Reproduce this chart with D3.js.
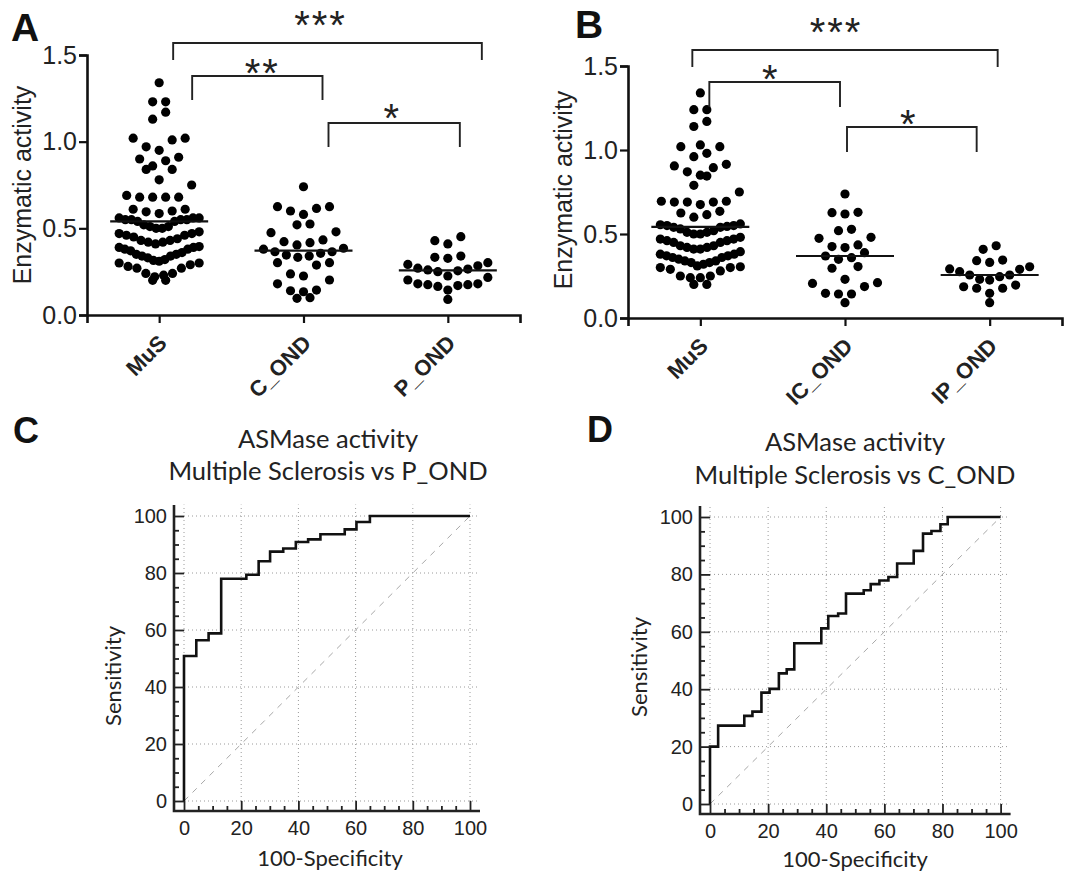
<!DOCTYPE html>
<html>
<head>
<meta charset="utf-8">
<script src="https://cdn.jsdelivr.net/npm/d3@7"></script>
<style>
  body { margin: 0; background: #fff; }
  svg { display: block; }
</style>
</head>
<body>
<svg id="fig" width="1070" height="873"></svg>
<script>
// ---- values ----
const groupsA = ["MuS", "C_OND", "P_OND"];
const groupsB = ["MuS", "IC_OND", "IP_OND"];

const musA = [1.34, 1.23, 1.23, 1.17, 1.13, 1.02, 1.02, 1.01, 0.97, 0.95, 0.91, 0.90, 0.89, 0.86,
  0.84, 0.84, 0.78, 0.75, 0.69, 0.68, 0.68, 0.68, 0.68, 0.61, 0.61, 0.60, 0.595, 0.585,
  0.56, 0.56, 0.56, 0.55, 0.55, 0.55, 0.55, 0.54, 0.54,
  0.52, 0.51, 0.51, 0.50, 0.50,
  0.48, 0.47, 0.47, 0.46, 0.46, 0.45,
  0.44, 0.43, 0.43, 0.42, 0.42, 0.41,
  0.395, 0.39, 0.39, 0.38, 0.38, 0.37,
  0.36, 0.35, 0.35, 0.34, 0.34, 0.33,
  0.32, 0.315, 0.31, 0.30, 0.30, 0.29,
  0.28, 0.27, 0.27,
  0.24, 0.24, 0.23, 0.22,
  0.20, 0.20];
const cOndA = [0.74, 0.625, 0.625, 0.615, 0.60, 0.58, 0.525, 0.52, 0.48, 0.475, 0.433, 0.423,
  0.417, 0.404, 0.385, 0.38, 0.365, 0.365, 0.356, 0.346, 0.34, 0.333, 0.302, 0.302, 0.288,
  0.237, 0.225, 0.202, 0.18, 0.144, 0.14, 0.134, 0.10, 0.096];
const pOndA = [0.452, 0.429, 0.41, 0.34, 0.333, 0.327, 0.302, 0.292, 0.284, 0.27, 0.265, 0.26,
  0.255, 0.25, 0.225, 0.217, 0.202, 0.18, 0.18, 0.175, 0.175, 0.17, 0.165, 0.144, 0.09];

const musB = [1.34, 1.24, 1.24, 1.17, 1.14, 1.03, 1.02, 1.02, 0.98, 0.96, 0.915, 0.905, 0.895,
  0.87, 0.85, 0.845, 0.79, 0.75, 0.695, 0.695, 0.69, 0.69, 0.69, 0.675, 0.635, 0.625, 0.615, 0.60,
  0.56, 0.555, 0.55, 0.55, 0.545, 0.54, 0.54,
  0.53, 0.52, 0.51, 0.51, 0.50, 0.50,
  0.48, 0.47, 0.47, 0.46, 0.46, 0.45, 0.45,
  0.43, 0.43, 0.42, 0.42, 0.41, 0.41,
  0.395, 0.38, 0.38, 0.37, 0.37, 0.36, 0.36,
  0.35, 0.34, 0.34, 0.33, 0.33, 0.32,
  0.31, 0.305, 0.30, 0.30, 0.29, 0.28,
  0.25, 0.25, 0.24, 0.24,
  0.20, 0.20];
const icOndB = [0.738, 0.629, 0.627, 0.619, 0.528, 0.52, 0.48, 0.474, 0.435, 0.425, 0.419,
  0.389, 0.369, 0.359, 0.349, 0.306, 0.296, 0.23, 0.21, 0.206, 0.187, 0.147, 0.143, 0.143, 0.091];
const ipOndB = [0.43, 0.409, 0.345, 0.341, 0.331, 0.305, 0.292, 0.29, 0.276, 0.256, 0.256,
  0.246, 0.23, 0.226, 0.196, 0.186, 0.177, 0.177, 0.147, 0.091];

const mediansA = [0.54, 0.371, 0.257];
const mediansB = [0.543, 0.369, 0.256];
const scatterTicks = [0, 0.5, 1.0, 1.5];

const sigA = [{ from: 0, to: 2, label: "***" }, { from: 0, to: 1, label: "**" }, { from: 1, to: 2, label: "*" }];
const sigB = [{ from: 0, to: 2, label: "***" }, { from: 0, to: 1, label: "*" }, { from: 1, to: 2, label: "*" }];

// ROC operating points: 100-specificity and sensitivity
const rocFprC = [0, 0, 4.3, 8.6, 13, 21.8, 26.1, 30.1, 34.7, 39.1, 43.4, 47.7, 56.2, 60.3, 65, 100];
const rocTprC = [0, 50.9, 56.4, 58.8, 78, 79.4, 84.1, 87.5, 88.6, 90.9, 91.8, 93.6, 95.3, 97.9, 100, 100];
const rocFprD = [0, 0, 2.8, 11.8, 14.6, 17.7, 20.5, 23.7, 26.4, 29, 38.3, 40.7, 44.1, 46.8, 52.9,
  55.3, 58.3, 61.4, 64.4, 70.1, 73.3, 76.2, 79.3, 81.8, 100];
const rocTprD = [0, 20, 27.3, 30.7, 32.2, 38.8, 40.1, 45.5, 46.9, 56, 61.2, 65.5, 66.4, 73.3, 74.5,
  76.6, 77.9, 79.1, 83.8, 88.2, 94.2, 95.1, 97.5, 100, 100];
const rocTicks = [0, 20, 40, 60, 80, 100];

// ---- drawing ----
const ARIAL = "'Liberation Sans', Arial, sans-serif";
const CALIBRI = "Lato, 'Open Sans', sans-serif";
const svg = d3.select("#fig");

// GraphPad-like column scatter: bin values, centre each bin, lowest values in the middle
function columnLayout(vals) {
  const binSize = 0.09, binOffset = 0.04, gap = 13, maxWidth = 80;
  const bins = d3.group(vals, v => Math.floor((v - binOffset) / binSize + 1e-9));
  const out = [];
  for (const [, arr] of bins) {
    const s = arr.slice().sort(d3.ascending);
    const n = s.length;
    const sp = n > 1 ? Math.min(gap, maxWidth / (n - 1)) : 0;
    const slots = d3.range(n).map(j => (j - (n - 1) / 2) * sp);
    slots.sort((a, b) => Math.abs(a) - Math.abs(b) || a - b);
    s.forEach((v, i) => out.push({ v, dx: slots[i] }));
  }
  return out;
}

function drawScatter(o) {
  const x = d3.scalePoint().domain(o.groups).range([o.axisX, o.axisEnd]).padding(0.5);
  const y = d3.scaleLinear().domain([0, 1.5]).range([o.y0, o.y15]);
  const g = svg.append("g");

  // dots
  o.series.forEach((vals, i) => {
    g.append("g").selectAll("circle").data(columnLayout(vals)).join("circle")
      .attr("cx", d => x(o.groups[i]) + d.dx)
      .attr("cy", d => y(d.v))
      .attr("r", 4.6)
      .attr("fill", "#000");
  });

  // median lines
  g.append("g").selectAll("line").data(o.medians).join("line")
    .attr("x1", (d, i) => x(o.groups[i]) - 49)
    .attr("x2", (d, i) => x(o.groups[i]) + 49)
    .attr("y1", d => y(d)).attr("y2", d => y(d))
    .attr("stroke", "#111").attr("stroke-width", 2.2);

  // y axis
  const ya = g.append("g").attr("transform", `translate(${o.axisX},0)`)
    .call(d3.axisLeft(y).tickValues(scatterTicks).tickFormat(d3.format(".1f"))
      .tickSizeOuter(0).tickSize(8).tickPadding(2));
  ya.attr("font-family", ARIAL);
  ya.select(".domain").attr("stroke", "#111").attr("stroke-width", 2.6);
  ya.selectAll(".tick line").attr("stroke", "#111").attr("stroke-width", 2.2);
  ya.selectAll("text").attr("font-family", ARIAL).attr("font-size", 25).attr("fill", "#222");

  // x axis
  const xa = g.append("g").attr("transform", `translate(0,${o.y0})`)
    .call(d3.axisBottom(x).tickSizeOuter(0).tickSize(8));
  xa.attr("font-family", ARIAL);
  xa.select(".domain").attr("stroke", "#111").attr("stroke-width", 2.6);
  xa.selectAll(".tick line").attr("stroke", "#111").attr("stroke-width", 2.2);
  xa.selectAll("text")
    .attr("font-family", ARIAL).attr("font-size", 22).attr("font-weight", "bold").attr("fill", "#222")
    .attr("text-anchor", "end").attr("x", 0).attr("y", 0).attr("dy", "0.35em")
    .attr("transform", "translate(3,24) rotate(-45)");

  // y title
  g.append("text")
    .attr("transform", `translate(${o.titleX},${o.titleY}) rotate(-90)`)
    .attr("text-anchor", "middle")
    .attr("font-family", ARIAL).attr("font-size", 25).attr("fill", "#222")
    .text("Enzymatic activity");

  // significance brackets
  const starSize = 40;
  o.sig.forEach((s, i) => {
    const b = o.brackets[i];
    const x1 = x(o.groups[s.from]) + b.dx1, x2 = x(o.groups[s.to]) + b.dx2;
    g.append("path")
      .attr("d", `M${x1},${b.leg}V${b.top}H${x2}V${b.leg}`)
      .attr("fill", "none").attr("stroke", "#222").attr("stroke-width", 1.9);
    g.append("text")
      .attr("x", (x1 + x2) / 2 + b.tdx).attr("y", b.starY + 0.56 * starSize)
      .attr("text-anchor", "middle")
      .attr("font-family", ARIAL).attr("font-size", starSize).attr("letter-spacing", 2).attr("fill", "#222")
      .text(s.label);
  });

  // panel letter
  g.append("text").attr("x", o.letterX).attr("y", o.letterY)
    .attr("font-family", ARIAL).attr("font-size", 39).attr("font-weight", "bold").attr("fill", "#111")
    .text(o.letter);
}

function drawRoc(o) {
  const x = d3.scaleLinear().domain([0, 100]).range(o.xRange);
  const y = d3.scaleLinear().domain([0, 100]).range(o.yRange);
  const g = svg.append("g");
  const axX = x(0) - 10, axY = y(0) + 10;

  // dotted grid
  g.append("g").selectAll("line").data(rocTicks).join("line")
    .attr("x1", d => x(d)).attr("x2", d => x(d)).attr("y1", y(0)).attr("y2", y(104))
    .attr("stroke", "#9a9a9a").attr("stroke-width", 1).attr("stroke-dasharray", "1,3");
  g.append("g").selectAll("line").data(rocTicks).join("line")
    .attr("y1", d => y(d)).attr("y2", d => y(d)).attr("x1", x(0)).attr("x2", x(103))
    .attr("stroke", "#9a9a9a").attr("stroke-width", 1).attr("stroke-dasharray", "1,3");

  // chance diagonal
  g.append("line")
    .attr("x1", x(0)).attr("y1", y(0)).attr("x2", x(100)).attr("y2", y(100))
    .attr("stroke", "#a8a8a8").attr("stroke-width", 1).attr("stroke-dasharray", "6,6");

  // ROC step curve
  const pts = o.fpr.map((f, i) => [f, o.tpr[i]]);
  g.append("path")
    .attr("d", d3.line().x(d => x(d[0])).y(d => y(d[1])).curve(d3.curveStepAfter)(pts))
    .attr("fill", "none").attr("stroke", "#111").attr("stroke-width", 2.6);

  // axes (ticks pointing inwards, offset from the plot area)
  const minor = d3.range(5, 100, 5).filter(d => d % 20);
  const yl = g.append("g").attr("transform", `translate(${axX},0)`)
    .call(d3.axisLeft(y).tickValues(rocTicks).tickSizeInner(-10).tickSizeOuter(0).tickPadding(7));
  const ym = g.append("g").attr("transform", `translate(${axX},0)`)
    .call(d3.axisLeft(y).tickValues(minor).tickSizeInner(-5).tickSizeOuter(0).tickFormat(""));
  const xl = g.append("g").attr("transform", `translate(0,${axY})`)
    .call(d3.axisBottom(x).tickValues(rocTicks).tickSizeInner(-10).tickSizeOuter(0).tickPadding(10));
  const xm = g.append("g").attr("transform", `translate(0,${axY})`)
    .call(d3.axisBottom(x).tickValues(minor).tickSizeInner(-5).tickSizeOuter(0).tickFormat(""));
  [yl, ym, xl, xm].forEach(a => {
    a.select(".domain").remove();
    a.selectAll(".tick line").attr("stroke", "#222").attr("stroke-width", 1.8);
    a.selectAll("text").attr("font-family", ARIAL).attr("font-size", 20).attr("fill", "#222");
  });
  g.append("path")
    .attr("d", `M${axX},${y(100) - 11}V${axY}H${x(100) + 10}`)
    .attr("fill", "none").attr("stroke", "#222").attr("stroke-width", 2.6);

  // titles
  const t = g.append("text").attr("text-anchor", "middle")
    .attr("font-family", CALIBRI).attr("font-size", 25.5).attr("fill", "#222");
  t.append("tspan").attr("x", o.titleX).attr("y", o.titleY1).text("ASMase activity");
  t.append("tspan").attr("x", o.titleX).attr("y", o.titleY2).text(o.subtitle);

  g.append("text")
    .attr("transform", `translate(${o.sensX},${o.sensY}) rotate(-90)`)
    .attr("text-anchor", "middle")
    .attr("font-family", CALIBRI).attr("font-size", 22).attr("fill", "#222")
    .text("Sensitivity");
  g.append("text")
    .attr("x", o.specX).attr("y", o.specY).attr("text-anchor", "middle")
    .attr("font-family", CALIBRI).attr("font-size", 22).attr("fill", "#222")
    .text("100-Specificity");

  g.append("text").attr("x", o.letterX).attr("y", o.letterY)
    .attr("font-family", ARIAL).attr("font-size", 36).attr("font-weight", "bold").attr("fill", "#111")
    .text(o.letter);
}

drawScatter({
  groups: groupsA, series: [musA, cOndA, pOndA], medians: mediansA, sig: sigA,
  axisX: 87, axisEnd: 520, y0: 315, y15: 55,
  titleX: 31, titleY: 185, letter: "A", letterX: 11, letterY: 41,
  brackets: [
    { dx1: 14, dx2: 34, top: 43, leg: 60, tdx: -7, starY: 17 },
    { dx1: 33, dx2: 19, top: 76, leg: 100, tdx: 5, starY: 65 },
    { dx1: 25, dx2: 12, top: 123, leg: 147, tdx: -2, starY: 110 }
  ]
});

drawScatter({
  groups: groupsB, series: [musB, icOndB, ipOndB], medians: mediansB, sig: sigB,
  axisX: 628, axisEnd: 1062, y0: 318, y15: 66,
  titleX: 572, titleY: 190, letter: "B", letterX: 575, letterY: 38,
  brackets: [
    { dx1: -8, dx2: 8, top: 50, leg: 67, tdx: -9, starY: 24 },
    { dx1: 9, dx2: -5, top: 82, leg: 107, tdx: -4, starY: 71 },
    { dx1: 2, dx2: -13, top: 127, leg: 152, tdx: -3, starY: 116 }
  ]
});

drawRoc({
  fpr: rocFprC, tpr: rocTprC, xRange: [184, 470], yRange: [801, 516],
  subtitle: "Multiple Sclerosis vs P_OND", titleX: 328, titleY1: 448, titleY2: 480,
  sensX: 121, sensY: 676, specX: 330, specY: 866,
  letter: "C", letterX: 13, letterY: 443
});

drawRoc({
  fpr: rocFprD, tpr: rocTprD, xRange: [710, 1000.6], yRange: [804, 517],
  subtitle: "Multiple Sclerosis vs C_OND", titleX: 855, titleY1: 451, titleY2: 484,
  sensX: 647, sensY: 667, specX: 855, specY: 867,
  letter: "D", letterX: 587, letterY: 442
});
</script>
</body>
</html>
